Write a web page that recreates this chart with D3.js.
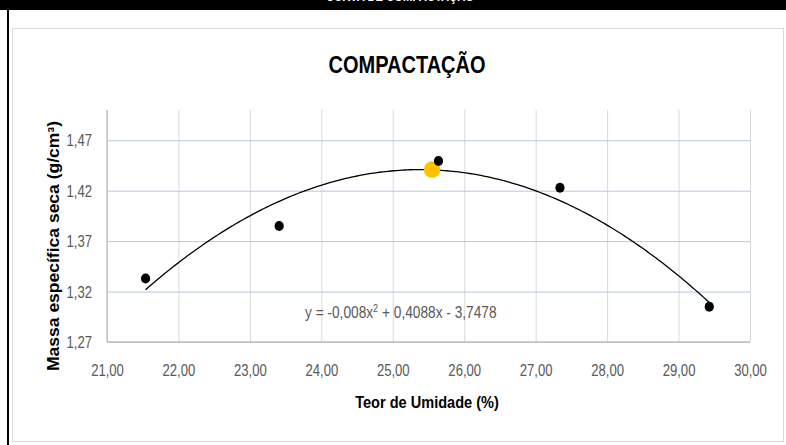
<!DOCTYPE html>
<html>
<head>
<meta charset="utf-8">
<script src="https://cdn.jsdelivr.net/npm/d3@7"></script>
<style>
  html, body { margin: 0; padding: 0; background: #fff; }
  svg { display: block; }
  text { font-family: "Liberation Sans", Arial, sans-serif; }
</style>
</head>
<body>
<svg id="chart" width="786" height="445"></svg>
<script>
// Ensaio de compactação: teor de umidade (%) x massa específica seca (g/cm³)
const moisture = [21.54, 23.41, 25.64, 27.34, 29.43];
const dryDensity = [1.333, 1.385, 1.4495, 1.423, 1.305];

// Ponto de máximo (umidade ótima, massa específica seca máxima)
const optimumMoisture = [25.55];
const maxDensity = [1.441];

// Coeficientes da linha de tendência polinomial (a·x² + b·x + c)
const trendCoef = [-0.008052, 0.4088, -3.7478];

const xTicks = [21, 22, 23, 24, 25, 26, 27, 28, 29, 30];
const yTicks = [1.27, 1.32, 1.37, 1.42, 1.47];
const xDomain = [21, 30];
const yDomain = [1.27, 1.50];

const chartTitle = "COMPACTAÇÃO";
const headerTitle = "CURVA DE COMPACTAÇÃO";
const xTitle = "Teor de Umidade  (%)";
const yTitle = "Massa  específica  seca  (g/cm³)";

const svg = d3.select("#chart");
const W = 786, H = 445;
const plot = { left: 107, right: 750, top: 110, bottom: 342 };

// Texto estreito: fonte comum comprimida na horizontal
const NARROW = 0.77;
const comma = v => v.toFixed(2).replace(".", ",");
const place = (sel, x, y, sx, rot = 0) =>
  sel.attr("transform", `translate(${x},${y})${rot ? ` rotate(${rot})` : ""} scale(${sx},1)`);

// Faixa preta superior e borda esquerda
svg.append("rect").attr("x", 0).attr("y", 0).attr("width", W).attr("height", 10).attr("fill", "#000");
svg.append("rect").attr("x", 7).attr("y", 0).attr("width", 2).attr("height", H).attr("fill", "#000");
svg.append("text")
  .call(place, 400, 1, 0.8)
  .attr("text-anchor", "middle")
  .attr("font-weight", "bold")
  .attr("font-size", 14)
  .attr("fill", "#fff")
  .text(headerTitle);

// Área do gráfico
svg.append("rect")
  .attr("x", 12.5).attr("y", 28.5).attr("width", 771).attr("height", 413)
  .attr("fill", "#fff").attr("stroke", "#D9D9D9").attr("stroke-width", 1);

const x = d3.scaleLinear().domain(xDomain).range([plot.left, plot.right]);
const y = d3.scaleLinear().domain(yDomain).range([plot.bottom, plot.top]);

// Grade vertical + rótulos do eixo X
const gx = svg.append("g")
  .attr("transform", `translate(0,${plot.bottom})`)
  .call(d3.axisBottom(x)
    .tickValues(xTicks)
    .tickSize(-(plot.bottom - plot.top))
    .tickPadding(34)
    .tickFormat(comma));
gx.select(".domain").remove();
gx.selectAll(".tick line").attr("stroke", "#D9D9D9").attr("stroke-width", 1);
gx.selectAll(".tick text")
  .attr("font-size", 17)
  .attr("fill", "#595959")
  .attr("dy", 0)
  .attr("transform", `scale(${NARROW},1)`);

// Grade horizontal + rótulos do eixo Y
const gy = svg.append("g")
  .attr("transform", `translate(${plot.left},0)`)
  .call(d3.axisLeft(y)
    .tickValues(yTicks)
    .tickSize(-(plot.right - plot.left))
    .tickFormat(comma));
gy.select(".domain").remove();
gy.selectAll(".tick line").attr("stroke", "#B4C7E7").attr("stroke-width", 1);
gy.selectAll(".tick text")
  .attr("font-size", 17)
  .attr("fill", "#595959")
  .attr("x", -15 / NARROW)
  .attr("transform", `scale(${NARROW},1)`);

// Linhas dos eixos
svg.append("line")
  .attr("x1", plot.left).attr("x2", plot.left)
  .attr("y1", plot.top).attr("y2", plot.bottom)
  .attr("stroke", "#BFBFBF").attr("stroke-width", 1.3);
svg.append("line")
  .attr("x1", plot.left).attr("x2", plot.right)
  .attr("y1", plot.bottom).attr("y2", plot.bottom)
  .attr("stroke", "#BFBFBF").attr("stroke-width", 1.3);

// Linha de tendência polinomial, no intervalo dos dados
const [a, b, c] = trendCoef;
const poly = v => a * v * v + b * v + c;
const [x0, x1] = d3.extent(moisture);
const curvePts = d3.range(0, 201).map(i => {
  const xv = x0 + (x1 - x0) * i / 200;
  return [xv, poly(xv)];
});
svg.append("path")
  .datum(curvePts)
  .attr("fill", "none")
  .attr("stroke", "#000")
  .attr("stroke-width", 1.3)
  .attr("d", d3.line().x(d => x(d[0])).y(d => y(d[1])));

// Ponto ótimo
svg.selectAll(".opt")
  .data(optimumMoisture.map((v, i) => [v, maxDensity[i]]))
  .join("circle")
  .attr("class", "opt")
  .attr("cx", d => x(d[0])).attr("cy", d => y(d[1]))
  .attr("r", 8.3)
  .attr("fill", "#FFC000");

// Pontos do ensaio
svg.selectAll(".pt")
  .data(moisture.map((v, i) => [v, dryDensity[i]]))
  .join("ellipse")
  .attr("class", "pt")
  .attr("cx", d => x(d[0])).attr("cy", d => y(d[1]))
  .attr("rx", 4.6).attr("ry", 5)
  .attr("fill", "#000");

// Equação da linha de tendência
const fmt = (v, d) => Math.abs(v).toFixed(d).replace(".", ",");
const eq = svg.append("text")
  .call(place, 305, 318, 0.83)
  .attr("font-size", 16.5)
  .attr("fill", "#595959");
eq.append("tspan").text(`y = ${a < 0 ? "-" : ""}${fmt(a, 3)}x`);
eq.append("tspan").attr("dy", -6).attr("font-size", 11).text("2");
eq.append("tspan").attr("dy", 6)
  .text(` ${b < 0 ? "-" : "+"} ${fmt(b, 4)}x ${c < 0 ? "-" : "+"} ${fmt(c, 4)}`);

// Títulos
svg.append("text")
  .call(place, 407, 73, 0.87)
  .attr("text-anchor", "middle")
  .attr("font-weight", "bold")
  .attr("font-size", 23)
  .attr("fill", "#000")
  .text(chartTitle);

svg.append("text")
  .call(place, 427, 408, 0.91)
  .attr("text-anchor", "middle")
  .attr("font-weight", "bold")
  .attr("font-size", 16)
  .attr("fill", "#000")
  .text(xTitle);

svg.append("text")
  .attr("transform", "translate(59,246) rotate(-90)")
  .attr("text-anchor", "middle")
  .attr("font-weight", "bold")
  .attr("font-size", 16)
  .attr("fill", "#000")
  .attr("textLength", 250)
  .attr("lengthAdjust", "spacingAndGlyphs")
  .text(yTitle);
</script>
</body>
</html>
